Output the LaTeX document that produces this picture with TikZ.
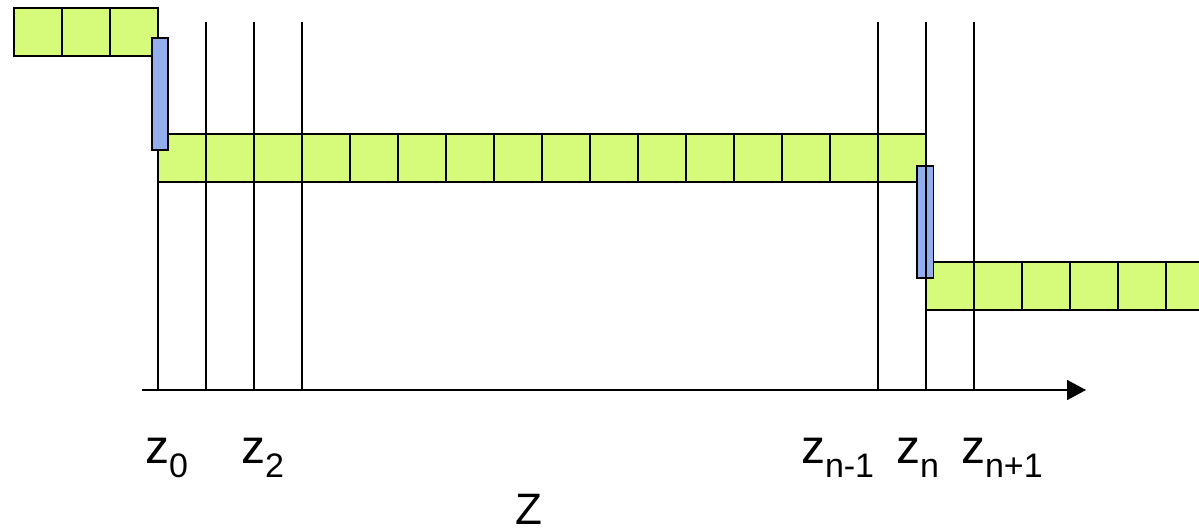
\documentclass[tikz,border=0pt]{standalone}
\usepackage{fontspec}
\setmainfont{Liberation Sans}
\usetikzlibrary{arrows.meta}
\definecolor{cellgreen}{RGB}{214,250,122}
\definecolor{gapblue}{RGB}{146,174,236}
\newcommand\zlab[1]{z\raisebox{-14pt}{\fontsize{34pt}{38pt}\selectfont #1}}
\begin{document}
\begin{tikzpicture}[x=1pt,y=-1pt,
  cell/.style={draw=black,fill=cellgreen,line width=1.6pt,minimum width=48pt,minimum height=48pt,inner sep=0pt,outer sep=0pt,anchor=north west},
  gapbox/.style={draw=black,fill=gapblue,line width=1.6pt,minimum width=16.3pt,minimum height=112pt,inner sep=0pt,outer sep=0pt,anchor=north west},
  gridline/.style={draw=black,line width=1.5pt},
  axisline/.style={draw=black,line width=1.5pt,-{Triangle[length=19pt,width=20pt]}},
  lab/.style={inner sep=0pt,outer sep=0pt,anchor=base west,font=\fontsize{48pt}{50pt}\selectfont}]
\useasboundingbox (0,0) rectangle (1199,529);
\begin{scope}
\clip (0,0) rectangle (1199,529);
% strips
\foreach \i in {0,1,2} \node[cell] (t\i) at ({14+48*\i},8) {};
\foreach \i in {0,...,15} \node[cell] (m\i) at ({158+48*\i},134) {};
\foreach \i in {0,...,5} \node[cell] (b\i) at ({926+48*\i},262) {};
\end{scope}
% vertical lines
\foreach \x/\n in {158/v0} {
  \coordinate (\n top) at (\x,22); \coordinate (\n bot) at (\x,390);
  \draw[gridline] (\n top) -- (\n bot);
}
% gaps
\node[gapbox] (g1) at (151.7,38) {};
\node[gapbox] (g2) at (917,166) {};
\foreach \x/\n in {206/v1,254/v2,302/v3,878/v4,926/v5,974/v6} {
  \coordinate (\n top) at (\x,22); \coordinate (\n bot) at (\x,390);
  \draw[gridline] (\n top) -- (\n bot);
}
% axis
\coordinate (a0) at (142,390);
\coordinate (a1) at (1086,390);
\draw[axisline] (a0) -- (a1);
% labels
\node[lab] (l0) at (145,463) {\zlab{0}};
\node[lab] (l2) at (241,463) {\zlab{2}};
\node[lab] (ln1) at (801,463) {\zlab{n-1}};
\node[lab] (ln) at (896,463) {\zlab{n}};
\node[lab] (ln2) at (961,463) {\zlab{n+1}};
\node[inner sep=0pt,anchor=base,font=\fontsize{44pt}{46pt}\selectfont] (lz) at (529,524) {Z};
\end{tikzpicture}
\end{document}
